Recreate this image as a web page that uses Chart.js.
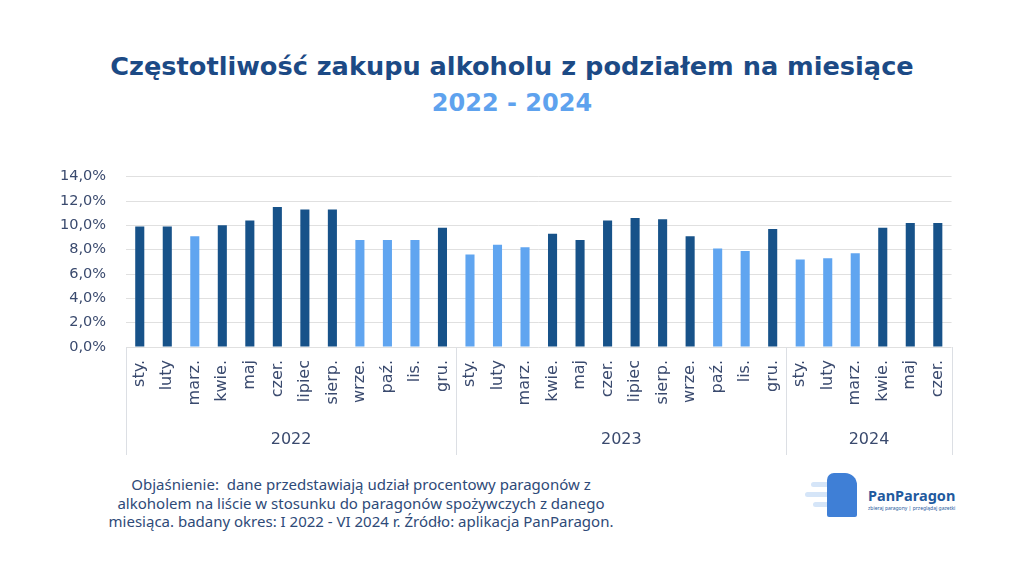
<!DOCTYPE html>
<html lang="pl">
<head>
<meta charset="utf-8">
<title>Częstotliwość zakupu alkoholu</title>
<script src="https://cdn.jsdelivr.net/npm/chart.js@4.4.1/dist/chart.umd.min.js"></script>
<style>
    html, body { margin: 0; padding: 0; background: #fff; }
    body { width: 1024px; height: 576px; position: relative; overflow: hidden; font-family: "DejaVu Sans", sans-serif; }
    .title { position: absolute; left: 0; width: 1024px; text-align: center; font-weight: bold; }
    #t1 { top: 51px; font-size: 25.6px; color: #1c4a85; }
    #t2 { top: 89px; font-size: 24px; color: #5ea2ee; }
    #chartBox { position: absolute; left: 60px; top: 148px; width: 910px; height: 312px; }
    #note { position: absolute; left: 61px; top: 475px; width: 600px; text-align: center; white-space: nowrap;
            font-family: "Noto Sans", sans-serif; font-size: 15px; line-height: 18.5px; color: #2e4a78; }
    #logo { position: absolute; left: 805px; top: 468px; width: 160px; height: 56px; }
    #logo .line { position: absolute; height: 5px; border-radius: 3px; background: #d5e5f8; }
    #logo .face { position: absolute; left: 22px; top: 5px; width: 30px; height: 44px; background: #3f7fd6; border-radius: 7px 12px 2px 2px; }
    #logo .name { position: absolute; left: 63px; top: 17px; font-family: "Noto Sans", sans-serif; font-weight: bold; font-size: 14.5px; color: #1f5a9e; }
    #logo .sub { position: absolute; left: 63px; top: 37px; font-family: "Noto Sans", sans-serif; font-size: 5px; color: #1f5a9e; }
</style>
</head>
<body>
<div class="title" id="t1">Częstotliwość zakupu alkoholu z podziałem na miesiące</div>
<div class="title" id="t2">2022 - 2024</div>
<div id="chartBox"><canvas id="chart"></canvas></div>
<div id="note">Objaśnienie:&nbsp; dane przedstawiają udział procentowy paragonów z<br>alkoholem na liście w stosunku do paragonów spożywczych z danego<br>miesiąca. badany okres: I 2022 - VI 2024 r. Źródło: aplikacja PanParagon.</div>
<div id="logo">
    <div class="line" style="left:6px;top:14px;width:24px"></div>
    <div class="line" style="left:0px;top:24px;width:30px"></div>
    <div class="line" style="left:8px;top:34px;width:22px"></div>
    <div class="face"></div>
    <div class="name">PanParagon</div>
    <div class="sub">zbieraj paragony | przeglądaj gazetki</div>
</div>
<script>
const months2022 = ["sty.", "luty", "marz.", "kwie.", "maj", "czer.", "lipiec", "sierp.", "wrze.", "paź.", "lis.", "gru."];
const months2023 = ["sty.", "luty", "marz.", "kwie.", "maj", "czer.", "lipiec", "sierp.", "wrze.", "paź.", "lis.", "gru."];
const months2024 = ["sty.", "luty", "marz.", "kwie.", "maj", "czer."];
const years = ["2022", "2023", "2024"];

const values2022 = [9.9, 9.9, 9.1, 10.0, 10.4, 11.5, 11.3, 11.3, 8.8, 8.8, 8.8, 9.8];
const values2023 = [7.6, 8.4, 8.2, 9.3, 8.8, 10.4, 10.6, 10.5, 9.1, 8.1, 7.9, 9.7];
const values2024 = [7.2, 7.3, 7.7, 9.8, 10.2, 10.2];

// months drawn in the lighter shade
const light2022 = ["marz.", "wrze.", "paź.", "lis."];
const light2023 = ["sty.", "luty", "marz.", "paź.", "lis."];
const light2024 = ["sty.", "luty", "marz."];

const DARK = "#175289";
const LIGHT = "#60a5f0";
const TEXT = "#3a4a6e";

const groups = [
    { year: years[0], months: months2022, values: values2022, light: light2022 },
    { year: years[1], months: months2023, values: values2023, light: light2023 },
    { year: years[2], months: months2024, values: values2024, light: light2024 },
];

const labels = groups.flatMap((g) => g.months);
const values = groups.flatMap((g) => g.values);
const colors = groups.flatMap((g) => g.months.map((m) => (g.light.includes(m) ? LIGHT : DARK)));

// second row of the x axis: year names and group separators
const yearGroups = {
    id: "yearGroups",
    afterDraw(chart) {
        const { ctx, chartArea, scales } = chart;
        const x = scales.x;
        const half = (x.getPixelForValue(1) - x.getPixelForValue(0)) / 2;
        const bottom = chartArea.bottom + 108;
        ctx.save();
        ctx.strokeStyle = "#dcdfe4";
        ctx.lineWidth = 1;
        let start = 0;
        const edges = [x.getPixelForValue(0) - half];
        groups.forEach((g) => {
            const end = start + g.months.length - 1;
            edges.push(x.getPixelForValue(end) + half);
            const mid = (x.getPixelForValue(start) + x.getPixelForValue(end)) / 2;
            ctx.fillStyle = TEXT;
            ctx.font = "16px 'DejaVu Sans'";
            ctx.textAlign = "center";
            ctx.textBaseline = "middle";
            ctx.fillText(g.year, mid, chartArea.bottom + 93);
            start = end + 1;
        });
        edges.forEach((e) => {
            const px = Math.round(e) + 0.5;
            ctx.beginPath();
            ctx.moveTo(px, chartArea.bottom);
            ctx.lineTo(px, bottom);
            ctx.stroke();
        });
        ctx.restore();
    },
};

new Chart(document.getElementById("chart"), {
    type: "bar",
    data: {
        labels: labels,
        datasets: [{
            data: values,
            backgroundColor: colors,
            barPercentage: 0.66,
            categoryPercentage: 0.5,
        }],
    },
    options: {
        responsive: true,
        maintainAspectRatio: false,
        animation: false,
        layout: { padding: { left: 0, right: 0, top: 8, bottom: 0 } },
        plugins: {
            legend: { display: false },
            tooltip: { enabled: false },
        },
        scales: {
            x: {
                grid: { display: false, drawTicks: false },
                border: { display: false },
                afterFit: (scale) => { scale.height = 113; },
                ticks: {
                    color: TEXT,
                    font: { family: "DejaVu Sans", size: 16 },
                    minRotation: 90,
                    maxRotation: 90,
                    autoSkip: false,
                    padding: 13,
                },
            },
            y: {
                min: 0,
                max: 14,
                grid: { color: "#e0e0e0", drawTicks: false },
                border: { display: false },
                afterFit: (scale) => { scale.width = 66; },
                ticks: {
                    stepSize: 2,
                    color: TEXT,
                    padding: 20,
                    font: { family: "DejaVu Sans", size: 14.5 },
                    callback: (v) => v.toFixed(1).replace(".", ",") + "%",
                },
            },
        },
    },
    plugins: [yearGroups],
});
</script>
</body>
</html>
